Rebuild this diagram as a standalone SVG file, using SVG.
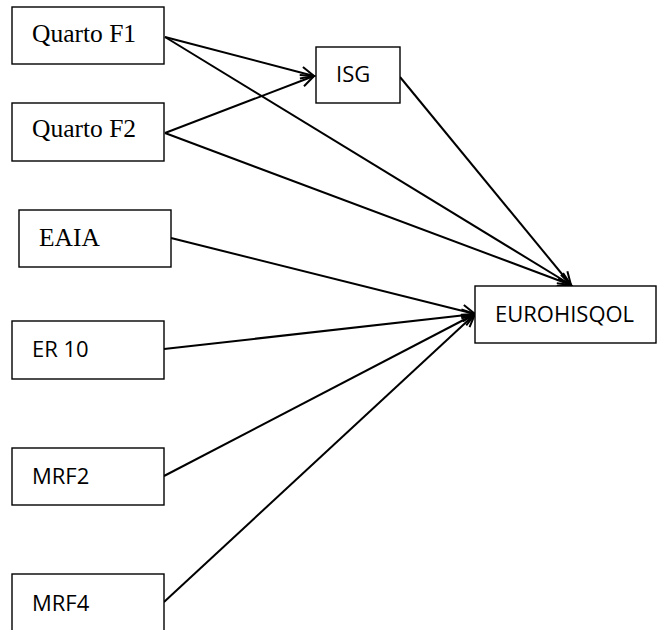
<svg xmlns="http://www.w3.org/2000/svg" width="657" height="630" viewBox="0 0 657 630">
<style>
.box{fill:#fff;stroke:#000;stroke-width:1.4}
.serif{font-family:"Liberation Serif","Times New Roman",serif;font-size:25.5px;fill:#000}
.sans{font-family:"Open Sans","Liberation Sans",Arial,sans-serif;font-size:22px;fill:#000}
.edge{stroke:#000;stroke-width:2;fill:none;marker-end:url(#arr)}
</style>
<defs>
<marker id="arr" markerUnits="userSpaceOnUse" markerWidth="16" markerHeight="14" refX="14" refY="7" orient="auto" viewBox="0 0 16 14">
<path d="M1,1 L14,7 L1,13" fill="none" stroke="#000" stroke-width="2"/>
</marker>
</defs>
<rect width="657" height="630" fill="#fff"/>
<g id="connectors">
<line class="edge" x1="165" y1="37" x2="314" y2="76"/>
<line class="edge" x1="165" y1="133" x2="314" y2="76"/>
<line class="edge" x1="165" y1="37" x2="571" y2="285"/>
<line class="edge" x1="165" y1="133" x2="571" y2="285"/>
<line class="edge" x1="400" y1="77" x2="571" y2="285"/>
<line class="edge" x1="171" y1="238" x2="475" y2="314"/>
<line class="edge" x1="164" y1="349" x2="475" y2="314"/>
<line class="edge" x1="164" y1="476" x2="475" y2="314"/>
<line class="edge" x1="164" y1="602" x2="475" y2="314"/>
</g>
<g id="quarto-f1"><rect class="box" x="12" y="7" width="152" height="57"/><text class="serif" x="32" y="42">Quarto F1</text></g>
<g id="quarto-f2"><rect class="box" x="12" y="103" width="152" height="58"/><text class="serif" x="32" y="137">Quarto F2</text></g>
<g id="isg"><rect class="box" x="316" y="47" width="84" height="56"/><text class="sans" x="336" y="82">ISG</text></g>
<g id="eaia"><rect class="box" x="19" y="210" width="152" height="57"/><text class="serif" x="39" y="246">EAIA</text></g>
<g id="er10"><rect class="box" x="12" y="321" width="152" height="58"/><text class="sans" x="32" y="357">ER 10</text></g>
<g id="eurohisqol"><rect class="box" x="475" y="286" width="181" height="57"/><text class="sans" x="495" y="322">EUROHISQOL</text></g>
<g id="mrf2"><rect class="box" x="12" y="448" width="152" height="57"/><text class="sans" x="32" y="484">MRF2</text></g>
<g id="mrf4"><rect class="box" x="12" y="574" width="152" height="70"/><text class="sans" x="32" y="611">MRF4</text></g>
</svg>
